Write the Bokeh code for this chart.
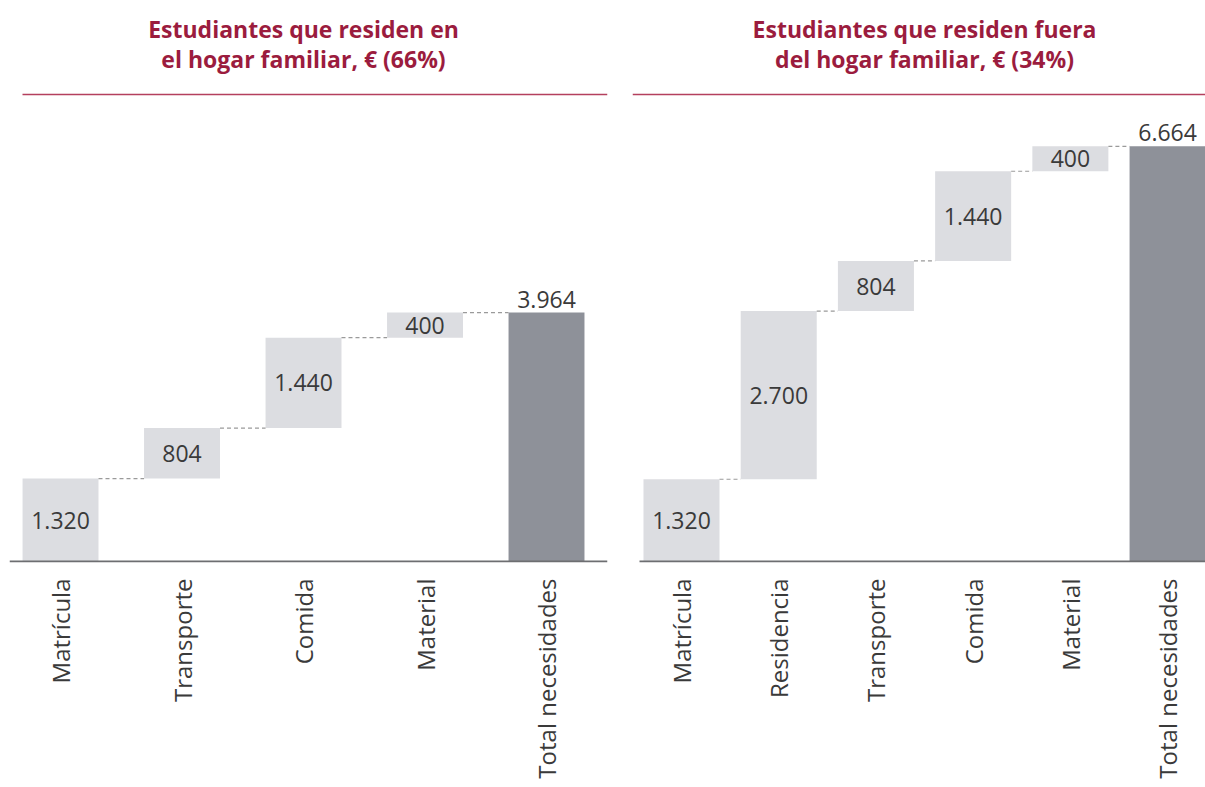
import numpy as np
from bokeh.plotting import figure
from bokeh.layouts import row
from bokeh.models import FixedTicker, ColumnDataSource
from bokeh.core.properties import value
from bokeh.embed import file_html
from bokeh.resources import INLINE

# ---------------- data ----------------
left_title = ["Estudiantes que residen en", "el hogar familiar, € (66%)"]
left_categories = ["Matrícula", "Transporte", "Comida", "Material", "Total necesidades"]
left_values = [1320, 804, 1440, 400]
left_total = 3964

right_title = ["Estudiantes que residen fuera", "del hogar familiar, € (34%)"]
right_categories = ["Matrícula", "Residencia", "Transporte", "Comida", "Material", "Total necesidades"]
right_values = [1320, 2700, 804, 1440, 400]
right_total = 6664

# ---------------- style ----------------
FONT = "Open Sans"
LIGHT = "#dcdde1"
DARK = "#8e9199"
TEXT = "#3a3a3a"
TITLE_C = "#9b1c3e"
RULE_C = "#b4405e"
AXIS_C = "#6d6e71"


def fmt(v):
    return f"{v:,}".replace(",", ".")


def panel(title, cats, vals, total, width, mb_left, mb_right, x_start, x_end, bar_w, px_per_unit,
          rule_x0, base_x0, title_x):
    H = 787
    bottom_border = 225
    base_px = 561                         # baseline distance from top of canvas
    y_start = -1 / px_per_unit
    y_end = base_px / px_per_unit
    n = len(cats)
    p = figure(width=width, height=H, output_backend="svg", toolbar_location=None,
               x_range=(x_start, x_end), y_range=(y_start, y_end),
               min_border_left=mb_left, min_border_right=mb_right,
               min_border_top=0, min_border_bottom=bottom_border,
               y_axis_location=None)
    p.grid.visible = False
    p.outline_line_color = None
    p.background_fill_color = "white"
    p.border_fill_color = "white"

    xs = list(range(n))
    cum = np.cumsum([0] + vals)
    bottoms = list(cum[:-1]) + [0]
    tops = list(cum[1:]) + [total]
    colors = [LIGHT] * len(vals) + [DARK]
    src = ColumnDataSource(dict(x=xs, bottom=bottoms, top=tops, color=colors))
    p.vbar(x="x", bottom="bottom", top="top", width=bar_w, color="color", source=src, line_color=None)

    # baseline
    p.segment(x0=[base_x0], y0=[0], x1=[x_end], y1=[0], line_color=AXIS_C, line_width=2)

    # connectors
    cx0 = [i + bar_w / 2 for i in range(n - 1)]
    cx1 = [i + 1 - bar_w / 2 for i in range(n - 1)]
    cy = list(cum[1:])
    p.segment(x0=cx0, y0=cy, x1=cx1, y1=cy, line_color="#9a9a9a", line_width=1.2, line_dash="4 3")

    # value labels in bars
    mids = [(b + t) / 2 for b, t in zip(bottoms[:-1], tops[:-1])]
    p.text(x=xs[:-1], y=mids, text=[fmt(v) for v in vals], text_align="center", text_baseline="middle",
           text_font=value(FONT), text_font_size="23px", text_color=TEXT)
    p.text(x=[n - 1], y=[total], text=[fmt(total)], text_align="center", text_baseline="bottom",
           y_offset=-5, text_font=value(FONT), text_font_size="23px", text_color=TEXT)

    # rule under the title
    rule_y = (base_px - 94) / px_per_unit
    p.segment(x0=[rule_x0], y0=[rule_y], x1=[x_end], y1=[rule_y], line_color=RULE_C, line_width=1.6)

    # two-line title
    ty = [(base_px - 28) / px_per_unit, (base_px - 58) / px_per_unit]
    p.text(x=[title_x, title_x], y=ty, text=title, text_align="center", text_baseline="middle",
           text_font=value(FONT), text_font_style="bold", text_font_size="23px", text_color=TITLE_C)

    ax = p.xaxis[0]
    ax.ticker = FixedTicker(ticks=xs)
    ax.major_label_overrides = {i: c for i, c in enumerate(cats)}
    ax.major_label_orientation = np.pi / 2
    ax.major_label_text_font = FONT
    ax.major_label_text_font_size = "24px"
    ax.major_label_text_color = TEXT
    ax.major_label_standoff = 10
    ax.major_tick_line_color = None
    ax.minor_tick_line_color = None
    ax.axis_line_color = None
    return p


p1 = panel(left_title, left_categories, left_values, left_total,
           width=620, mb_left=9, mb_right=13,
           x_start=-0.42, x_end=4.502, bar_w=0.625, px_per_unit=0.0628,
           rule_x0=-0.313, base_x0=-0.42, title_x=2.0)
p2 = panel(right_title, right_categories, right_values, right_total,
           width=585, mb_left=12, mb_right=0,
           x_start=-0.504, x_end=5.39, bar_w=0.782, px_per_unit=0.0623,
           rule_x0=-0.504, base_x0=-0.432, title_x=2.5)

layout = row(p1, p2)
open("out.html", "w").write(file_html(layout, INLINE))
